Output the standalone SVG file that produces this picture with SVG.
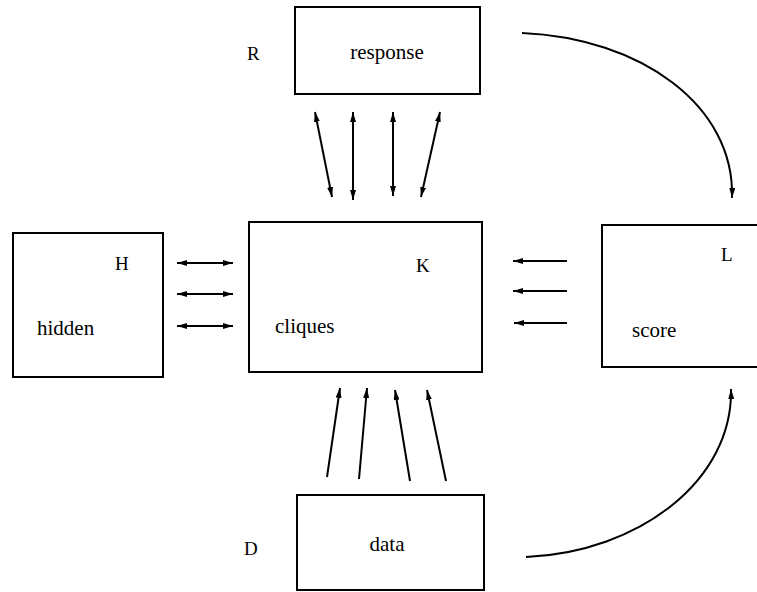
<svg xmlns="http://www.w3.org/2000/svg" width="757" height="592" viewBox="0 0 757 592">
<style>
.box{fill:#fff;stroke:#000;stroke-width:2}
.lbl{font-family:"Liberation Serif",serif;font-size:21px;fill:#000}
.let{font-family:"Liberation Serif",serif;font-size:19px;fill:#000}
.c{fill:none;stroke:#000;stroke-width:2}
</style>
<defs>
<marker id="ah" viewBox="0 0 10 6" refX="10" refY="3" markerWidth="10" markerHeight="6" markerUnits="userSpaceOnUse" orient="auto-start-reverse">
<path d="M0,0 L10,3 L0,6 Z" fill="#000"/>
</marker>
</defs>
<rect width="757" height="592" fill="#fff"/>
<g id="response">
<rect class="box" x="295" y="7" width="185" height="87"/>
<text class="lbl" x="387" y="59" text-anchor="middle">response</text>
<text class="let" x="247" y="60">R</text>
</g>
<g id="hidden">
<rect class="box" x="13" y="233" width="150" height="144"/>
<text class="let" x="115" y="270">H</text>
<text class="lbl" x="37" y="335">hidden</text>
</g>
<g id="cliques">
<rect class="box" x="249" y="222" width="233" height="150"/>
<text class="let" x="416" y="272">K</text>
<text class="lbl" x="275" y="333">cliques</text>
</g>
<g id="score">
<rect class="box" x="602" y="225" width="160" height="142"/>
<text class="let" x="721" y="261">L</text>
<text class="lbl" x="632" y="337">score</text>
</g>
<g id="data">
<rect class="box" x="297" y="495" width="187" height="95"/>
<text class="lbl" x="387" y="551" text-anchor="middle">data</text>
<text class="let" x="244" y="555">D</text>
</g>
<g id="connectors">
<line class="c" x1="315" y1="112" x2="332" y2="197" marker-start="url(#ah)" marker-end="url(#ah)"/>
<line class="c" x1="353" y1="112" x2="353" y2="200" marker-start="url(#ah)" marker-end="url(#ah)"/>
<line class="c" x1="393" y1="112" x2="393" y2="196" marker-start="url(#ah)" marker-end="url(#ah)"/>
<line class="c" x1="440" y1="112" x2="421" y2="197" marker-start="url(#ah)" marker-end="url(#ah)"/>
<line class="c" x1="177" y1="263" x2="233" y2="263" marker-start="url(#ah)" marker-end="url(#ah)"/>
<line class="c" x1="177" y1="294" x2="233" y2="294" marker-start="url(#ah)" marker-end="url(#ah)"/>
<line class="c" x1="177" y1="326" x2="233" y2="326" marker-start="url(#ah)" marker-end="url(#ah)"/>
<line class="c" x1="567" y1="261" x2="513" y2="261" marker-end="url(#ah)"/>
<line class="c" x1="567" y1="291" x2="513" y2="291" marker-end="url(#ah)"/>
<line class="c" x1="567" y1="323" x2="514" y2="323" marker-end="url(#ah)"/>
<line class="c" x1="327" y1="477" x2="340" y2="388" marker-end="url(#ah)"/>
<line class="c" x1="359" y1="479" x2="367" y2="388" marker-end="url(#ah)"/>
<line class="c" x1="410" y1="481" x2="395" y2="390" marker-end="url(#ah)"/>
<line class="c" x1="446" y1="481" x2="427" y2="390" marker-end="url(#ah)"/>
<path class="c" d="M522,33 C640,38 735,105 732,198" marker-end="url(#ah)"/>
<path class="c" d="M526,557 C640,552 733,480 731,389" marker-end="url(#ah)"/>
</g>
</svg>
